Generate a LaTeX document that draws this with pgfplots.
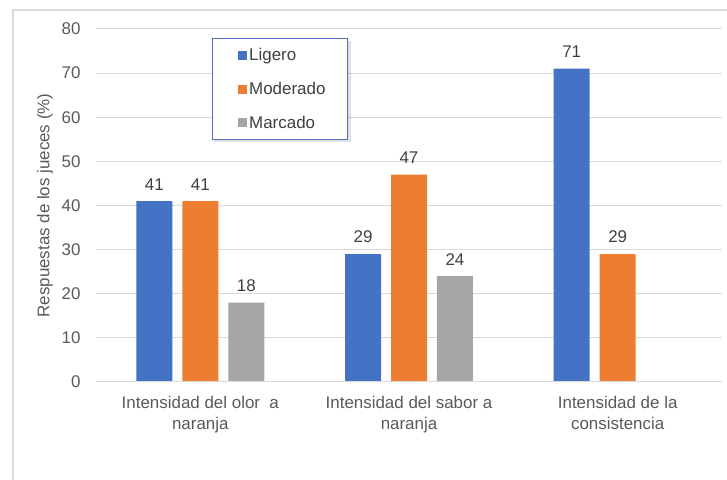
\documentclass[border=0pt]{standalone}
\usepackage{fontspec}
\setmainfont{Liberation Sans}
\usepackage{pgfplots}
\pgfplotsset{compat=1.18}
\definecolor{cblue}{HTML}{4472C4}
\definecolor{corange}{HTML}{ED7D31}
\definecolor{cgrey}{HTML}{A5A5A5}
\definecolor{gridc}{HTML}{D9D9D9}
\definecolor{txt}{HTML}{595959}
\definecolor{lblue}{HTML}{4F72C0}
\begin{document}
\begin{tikzpicture}
\path[use as bounding box] (0,0) rectangle (727bp,480bp);
\draw[gridc, line width=1.5bp] (13bp,0) -- (13bp,470bp) -- (727bp,470bp);
\begin{axis}[
  at={(96bp,98bp)}, anchor=south west,
  scale only axis, width=626bp, height=353bp,
  xmin=-0.5, xmax=2.5, ymin=0, ymax=80,
  ytick={0,10,...,80},
  xtick={0,1,2},
  xticklabels={{Intensidad del olor\ \ a\\naranja},{Intensidad del sabor a\\naranja},{Intensidad de la\\consistencia}},
  axis line style={draw=none},
  ymajorgrids, grid style={gridc, line width=1bp},
  major tick length=0pt,
  font=\fontsize{17}{20.5}\selectfont,
  /pgf/number format/assume math mode=true,
  yticklabel style={text=txt, xshift=-12bp},
  xticklabel style={text=txt, align=center, yshift=-11bp},
  ylabel={Respuestas de los jueces (\%)},
  ylabel style={at={(axis description cs:-0.0815,0.5)}, anchor=center, text=txt},
  ybar, bar width=0.1725,
  nodes near coords,
  every node near coord/.append style={text=black!75, yshift=7.5bp},
  legend style={at={(axis description cs:0.185,0.9745)}, anchor=north west,
    draw=lblue, line width=0.8bp, fill=white,
    inner xsep=20bp, inner ysep=8bp, row sep=16bp, text=black!75},
  legend cell align=left,
  legend image code/.code={\path (0bp,0bp); \fill (6bp,-4.5bp) rectangle (15bp,4.5bp);},
]
\addplot[fill=cblue, draw=none, bar shift=-0.2204] coordinates {(0,41) (1,29) (2,71)};
\addlegendentry{Ligero}
\addplot[fill=corange, draw=none, bar shift=0] coordinates {(0,41) (1,47) (2,29)};
\addlegendentry{Moderado}
\addplot[fill=cgrey, draw=none, bar shift=0.2204] coordinates {(0,18) (1,24)};
\addlegendentry{Marcado}
\draw[gridc, line width=1.2bp] (rel axis cs:0,0) -- (rel axis cs:1,0);
\fill[black, opacity=0.12] (axis description cs:0.1885,0.9660) rectangle (axis description cs:0.4073,0.6799);
\end{axis}
\end{tikzpicture}
\end{document}
